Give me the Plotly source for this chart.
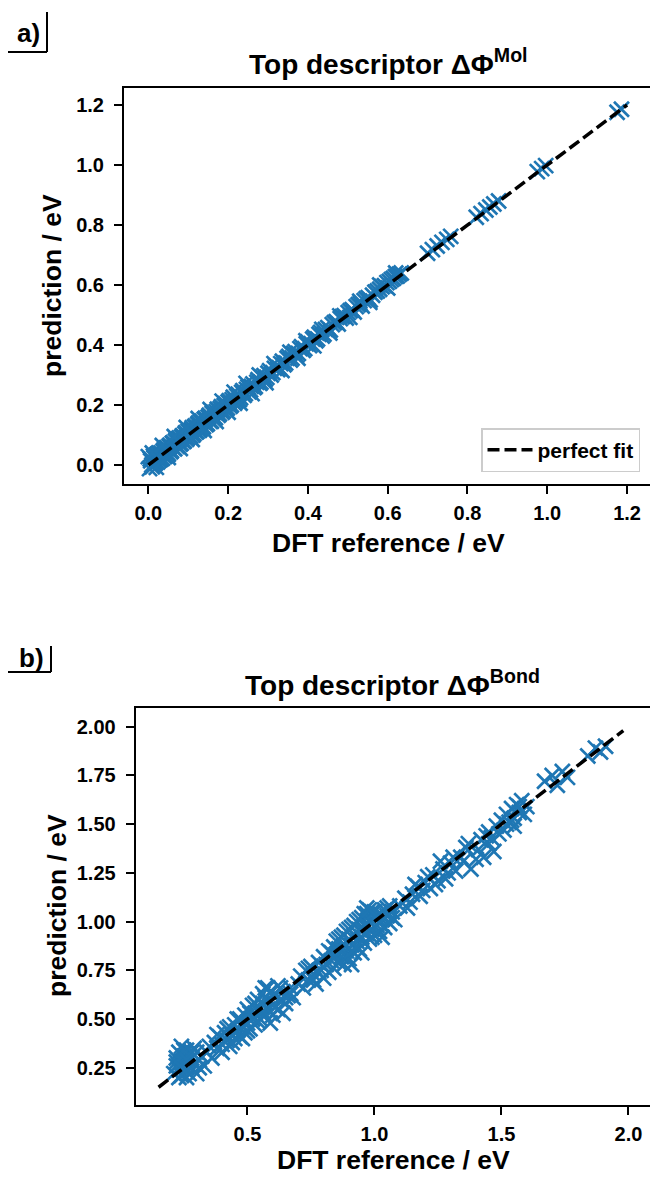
import plotly.graph_objects as go

W, H = 650, 1177

# ---------------- data ----------------
top_ref = [0.000, 0.003, 0.006, 0.010, 0.013, 0.016, 0.020, 0.023, 0.026, 0.030,
           0.033, 0.037, 0.040, 0.044, 0.048, 0.052, 0.056, 0.060, 0.064, 0.068,
           0.072, 0.076, 0.080, 0.084, 0.088, 0.092, 0.096, 0.100, 0.104, 0.108,
           0.112, 0.116, 0.120, 0.124, 0.128, 0.132, 0.136, 0.140, 0.145, 0.150,
           0.155, 0.160, 0.165, 0.170, 0.175, 0.180, 0.185, 0.190, 0.195, 0.200,
           0.205, 0.210, 0.216, 0.222, 0.228, 0.234, 0.240, 0.246, 0.252, 0.258,
           0.265, 0.272, 0.279, 0.286, 0.293, 0.300, 0.308, 0.316, 0.324, 0.332,
           0.340, 0.348, 0.356, 0.364, 0.372, 0.380, 0.388, 0.396, 0.404, 0.412,
           0.420, 0.428, 0.436, 0.444, 0.456, 0.466, 0.476, 0.486, 0.496, 0.506,
           0.516, 0.526, 0.536, 0.546, 0.556, 0.568, 0.580, 0.592, 0.604, 0.614,
           0.624, 0.634, 0.700, 0.712, 0.724, 0.736, 0.748, 0.758, 0.822, 0.834,
           0.846, 0.856, 0.866, 0.878, 0.975, 0.986, 0.996, 1.175, 1.186,
           0.005, 0.009, 0.014, 0.018, 0.022, 0.027, 0.031, 0.035, 0.039, 0.042,
           0.046, 0.050, 0.054, 0.058, 0.062, 0.066, 0.070, 0.074, 0.078, 0.082,
           0.086, 0.090, 0.094, 0.098, 0.102, 0.106, 0.110, 0.114, 0.118, 0.122,
           0.126, 0.130, 0.134, 0.138, 0.143, 0.148, 0.153, 0.158, 0.163, 0.168,
           0.173, 0.178, 0.183, 0.188, 0.193, 0.198, 0.203, 0.208, 0.213, 0.219,
           0.225, 0.231, 0.237, 0.243, 0.250, 0.256, 0.262, 0.268, 0.275, 0.282,
           0.290, 0.297, 0.304, 0.312, 0.320, 0.328, 0.336, 0.344, 0.352, 0.360,
           0.368, 0.376, 0.384, 0.392, 0.400, 0.408, 0.416, 0.424, 0.432, 0.440,
           0.450, 0.461, 0.471, 0.481, 0.491, 0.501, 0.511, 0.521, 0.531, 0.541,
           0.551, 0.562, 0.574, 0.586, 0.598, 0.609, 0.619, 0.629,
           0.010, 0.020, 0.035, 0.050, 0.065, 0.080, 0.095, 0.110, 0.125, 0.140,
           0.155, 0.170, 0.185, 0.200, 0.215, 0.230, 0.245, 0.260, 0.278, 0.295,
           0.315, 0.335, 0.355, 0.375, 0.395, 0.415, 0.435, 0.455, 0.480, 0.505,
           0.530, 0.555, 0.580, 0.600, 0.620]
top_pred = [0.028, -0.012, 0.014, -0.006, 0.030, 0.004, 0.032, 0.010, 0.040, 0.018,
            0.022, 0.046, 0.028, 0.056, 0.040, 0.062, 0.044, 0.072, 0.056, 0.080,
            0.062, 0.088, 0.070, 0.094, 0.078, 0.104, 0.086, 0.112, 0.094, 0.118,
            0.100, 0.128, 0.110, 0.136, 0.116, 0.144, 0.126, 0.152, 0.134, 0.160,
            0.146, 0.172, 0.154, 0.178, 0.166, 0.188, 0.176, 0.198, 0.186, 0.210,
            0.196, 0.218, 0.206, 0.230, 0.218, 0.242, 0.232, 0.252, 0.244, 0.262,
            0.258, 0.276, 0.272, 0.292, 0.286, 0.306, 0.300, 0.322, 0.318, 0.338,
            0.334, 0.356, 0.350, 0.372, 0.366, 0.388, 0.382, 0.404, 0.398, 0.420,
            0.414, 0.436, 0.430, 0.452, 0.450, 0.474, 0.470, 0.494, 0.490, 0.514,
            0.510, 0.534, 0.530, 0.554, 0.550, 0.576, 0.586, 0.598, 0.612, 0.622,
            0.630, 0.640, 0.706, 0.718, 0.730, 0.742, 0.752, 0.762, 0.826, 0.838,
            0.850, 0.860, 0.870, 0.880, 0.978, 0.988, 0.998, 1.176, 1.186,
            0.020, 0.000, 0.024, 0.008, 0.036, 0.016, 0.040, 0.022, 0.050, 0.030,
            0.058, 0.036, 0.066, 0.048, 0.074, 0.054, 0.084, 0.064, 0.090, 0.072,
            0.098, 0.080, 0.108, 0.090, 0.114, 0.096, 0.124, 0.104, 0.130, 0.112,
            0.140, 0.120, 0.146, 0.128, 0.156, 0.138, 0.166, 0.146, 0.176, 0.158,
            0.186, 0.170, 0.194, 0.180, 0.204, 0.190, 0.214, 0.200, 0.226, 0.212,
            0.236, 0.224, 0.248, 0.238, 0.260, 0.250, 0.270, 0.262, 0.284, 0.276,
            0.298, 0.292, 0.314, 0.308, 0.330, 0.324, 0.346, 0.340, 0.362, 0.356,
            0.378, 0.372, 0.394, 0.388, 0.410, 0.404, 0.426, 0.420, 0.442, 0.436,
            0.458, 0.468, 0.478, 0.488, 0.498, 0.508, 0.518, 0.528, 0.538, 0.548,
            0.558, 0.566, 0.580, 0.594, 0.608, 0.618, 0.628, 0.636,
            0.040, -0.008, 0.065, 0.025, 0.095, 0.055, 0.125, 0.085, 0.155, 0.115,
            0.185, 0.145, 0.213, 0.176, 0.243, 0.206, 0.272, 0.238, 0.300, 0.274,
            0.338, 0.315, 0.376, 0.356, 0.414, 0.397, 0.452, 0.440, 0.497, 0.492,
            0.546, 0.542, 0.600, 0.590, 0.640]

bot_ref = [0.21, 0.22, 0.22, 0.23, 0.23, 0.24, 0.24, 0.25, 0.25, 0.26, 0.26, 0.27,
           0.27, 0.28, 0.28, 0.29, 0.30, 0.30, 0.31, 0.32, 0.24, 0.26, 0.29, 0.33,
           0.34, 0.35, 0.36, 0.37, 0.38, 0.39, 0.40, 0.41, 0.42, 0.43, 0.43, 0.44,
           0.45, 0.45, 0.46, 0.47, 0.47, 0.48, 0.49, 0.49, 0.50, 0.50, 0.51, 0.52, 0.52,
           0.53, 0.53, 0.54, 0.55, 0.55, 0.56, 0.56, 0.57, 0.57, 0.58, 0.58, 0.59,
           0.60, 0.60, 0.61, 0.62, 0.62, 0.63, 0.64, 0.65, 0.66, 0.67, 0.68, 0.59, 0.64,
           0.70, 0.71, 0.72, 0.73, 0.74, 0.75, 0.76, 0.77, 0.78, 0.79, 0.80, 0.80,
           0.81, 0.82, 0.82,
           0.83, 0.84, 0.84, 0.85, 0.85, 0.86, 0.86, 0.87, 0.87, 0.88, 0.88, 0.89,
           0.89, 0.90, 0.90, 0.91, 0.91, 0.92, 0.92, 0.93, 0.93, 0.94, 0.94, 0.95,
           0.95, 0.96, 0.96, 0.97, 0.97, 0.98, 0.98, 0.99, 0.99, 1.00, 1.00, 0.95,
           0.91, 0.97,
           1.01, 1.02, 1.02, 1.03, 1.04, 1.04, 1.05, 1.06, 1.07, 1.08, 1.03, 1.06,
           1.10, 1.12, 1.13, 1.15, 1.17, 1.18, 1.20, 1.22, 1.23, 1.25, 1.27, 1.28,
           1.30, 1.32, 1.26,
           1.34, 1.36, 1.38, 1.40, 1.42, 1.43, 1.45, 1.47, 1.48, 1.50, 1.45, 1.41,
           1.51, 1.52, 1.53, 1.54, 1.55, 1.56, 1.57, 1.58, 1.55, 1.60,
           1.67, 1.70, 1.72, 1.74, 1.76,
           1.84, 1.87, 1.89, 1.91,
           0.22, 0.23, 0.25, 0.27, 0.28, 0.31, 0.26, 0.24,
           0.38, 0.40, 0.42, 0.44, 0.46, 0.48, 0.50, 0.51, 0.53, 0.54, 0.56, 0.57,
           0.58, 0.60, 0.61, 0.63, 0.65, 0.67,
           0.74, 0.76, 0.78, 0.80, 0.83, 0.84, 0.86, 0.87, 0.88, 0.89, 0.90, 0.91,
           0.92, 0.93, 0.94, 0.95, 0.96, 0.97, 0.98, 0.99, 1.00, 1.01, 1.02, 1.04,
           1.05, 1.07,
           1.14, 1.16, 1.19, 1.21, 1.24, 1.29, 1.31, 1.35, 1.37, 1.44, 1.46, 1.49,
           1.52, 1.54, 1.57, 1.59]
bot_pred = [0.22, 0.26, 0.30, 0.24, 0.33, 0.28, 0.21, 0.31, 0.26, 0.34, 0.23, 0.29,
            0.32, 0.25, 0.30, 0.27, 0.33, 0.22, 0.29, 0.31, 0.36, 0.20, 0.35, 0.26,
            0.33, 0.36, 0.30, 0.38, 0.35, 0.41, 0.37, 0.43, 0.39, 0.46, 0.36, 0.42,
            0.47, 0.40, 0.44, 0.50, 0.41, 0.46, 0.52, 0.43, 0.48, 0.55, 0.45, 0.50, 0.57,
            0.53, 0.47, 0.60, 0.55, 0.50, 0.63, 0.58, 0.52, 0.66, 0.60, 0.55, 0.64,
            0.57, 0.52, 0.62, 0.67, 0.55, 0.60, 0.64, 0.58, 0.62, 0.66, 0.61, 0.48, 0.53,
            0.68, 0.72, 0.66, 0.75, 0.70, 0.77, 0.73, 0.68, 0.79, 0.75, 0.82, 0.71,
            0.78, 0.85, 0.74,
            0.80, 0.87, 0.76, 0.83, 0.90, 0.79, 0.86, 0.92, 0.82, 0.88, 0.78, 0.95,
            0.85, 0.91, 0.81, 0.97, 0.88, 0.93, 0.84, 1.00, 0.90, 0.96, 0.86, 1.02,
            0.92, 0.98, 0.89, 1.04, 0.94, 1.00, 0.91, 1.05, 0.96, 1.02, 0.93, 0.84,
            0.78, 1.07,
            0.98, 1.04, 0.95, 1.01, 1.06, 0.97, 1.03, 0.99, 1.05, 1.01, 0.92, 1.08,
            1.08, 1.12, 1.07, 1.14, 1.18, 1.13, 1.20, 1.17, 1.24, 1.21, 1.27, 1.22,
            1.30, 1.26, 1.31,
            1.33, 1.38, 1.27, 1.32, 1.42, 1.33, 1.46, 1.36, 1.49, 1.52, 1.40, 1.37,
            1.47, 1.55, 1.51, 1.58, 1.53, 1.60, 1.56, 1.62, 1.49, 1.59,
            1.72, 1.75, 1.70, 1.77, 1.74,
            1.85, 1.89, 1.87, 1.90,
            0.28, 0.20, 0.34, 0.22, 0.33, 0.25, 0.29, 0.25,
            0.42, 0.33, 0.45, 0.38, 0.50, 0.40, 0.44, 0.53, 0.58, 0.49, 0.54, 0.61,
            0.66, 0.62, 0.56, 0.66, 0.61, 0.63,
            0.76, 0.70, 0.74, 0.77, 0.84, 0.81, 0.91, 0.86, 0.93, 0.82, 0.96, 0.85,
            0.98, 0.87, 1.01, 0.96, 1.04, 0.98, 1.06, 0.92, 1.05, 1.02, 0.99, 1.02,
            1.07, 1.02,
            1.10, 1.19, 1.16, 1.23, 1.19, 1.25, 1.33, 1.31, 1.40, 1.44, 1.43, 1.45,
            1.50, 1.52, 1.59, 1.55]

fit_top = [0.0, 1.2]
fit_bot = [0.15, 1.98]

top_xticks = [0.0, 0.2, 0.4, 0.6, 0.8, 1.0, 1.2]
top_yticks = [0.0, 0.2, 0.4, 0.6, 0.8, 1.0, 1.2]
bot_xticks = [0.5, 1.0, 1.5, 2.0]
bot_yticks = [0.25, 0.50, 0.75, 1.00, 1.25, 1.50, 1.75, 2.00]

# ---------------- figure ----------------
BLUE = "#1f77b4"
FONT = "Liberation Sans, Arial, sans-serif"


def px(p):
    return p / W


def py(p):
    return 1 - p / H


mk = dict(symbol="x-thin", size=15, color=BLUE, line=dict(width=2.7, color=BLUE))
dash = dict(color="black", width=3.5, dash="12px,5px")

fig = go.Figure()
fig.add_trace(go.Scatter(x=top_ref, y=top_pred, mode="markers", marker=mk,
                         xaxis="x", yaxis="y", showlegend=False))
fig.add_trace(go.Scatter(x=fit_top, y=fit_top, mode="lines", line=dash,
                         name="perfect fit", xaxis="x", yaxis="y"))
fig.add_trace(go.Scatter(x=bot_ref, y=bot_pred, mode="markers", marker=mk,
                         xaxis="x2", yaxis="y2", showlegend=False))
fig.add_trace(go.Scatter(x=fit_bot, y=fit_bot, mode="lines", line=dash,
                         xaxis="x2", yaxis="y2", showlegend=False))

tickfont = dict(family=FONT, size=20, color="black", weight="bold")
common = dict(showline=True, linewidth=2, linecolor="black", ticks="outside",
              ticklen=8, tickwidth=2, tickcolor="black", showgrid=False,
              zeroline=False, tickfont=tickfont, fixedrange=True)

fig.update_layout(
    width=W, height=H,
    margin=dict(l=0, r=0, t=0, b=0),
    paper_bgcolor="white", plot_bgcolor="white",
    xaxis=dict(domain=[px(124), 1], range=[-0.061, 1.2575], anchor="y",
               tickvals=top_xticks, tickformat=".1f", mirror=True,
               ticklabelstandoff=2, **common),
    yaxis=dict(domain=[py(484), py(88)], range=[-0.0633, 1.2567], anchor="x",
               tickvals=top_yticks, tickformat=".1f", ticklabelstandoff=6, **common),
    xaxis2=dict(domain=[px(135.7), 1], range=[0.060, 2.085], anchor="y2",
                tickvals=bot_xticks, tickformat=".1f", mirror=True,
                ticklabelstandoff=2, **common),
    yaxis2=dict(domain=[py(1105), py(708)], range=[0.059, 2.096], anchor="x2",
                tickvals=bot_yticks, tickformat=".2f", ticklabelstandoff=6, **common),
    legend=dict(x=px(640), y=py(472), xanchor="right", yanchor="bottom",
                bgcolor="white", bordercolor="#cccccc", borderwidth=1.5,
                itemwidth=45,
                font=dict(family=FONT, size=21, color="black", weight="bold")),
)


def label(text, x, y, angle=0, size=26, yanchor="middle"):
    fig.add_annotation(text=text, x=px(x), y=py(y), xref="paper", yref="paper",
                       xanchor="center", yanchor=yanchor, showarrow=False,
                       textangle=angle,
                       font=dict(family=FONT, size=size, color="black"))


label("<b>Top descriptor ΔΦ<sup>Mol</sup></b>", 388, 62, size=28)
label("<b>Top descriptor ΔΦ<sup>Bond</sup></b>", 392, 683, size=28)
label("<b>DFT reference / eV</b>", 388, 543, size=26.5)
label("<b>DFT reference / eV</b>", 393, 1177, size=26.5, yanchor="bottom")
label("<b>prediction / eV</b>", 52, 286, angle=-90, size=26.5)
label("<b>prediction / eV</b>", 57, 906, angle=-90, size=26.5)
label("<b>a)</b>", 29, 33)
label("<b>b)</b>", 31, 658)

# panel label boxes (right and bottom edges only)
for (xl, xr, yt, yb) in [(8, 47, 12, 52), (8, 51, 646, 672)]:
    fig.add_shape(type="line", xref="paper", yref="paper",
                  x0=px(xr), x1=px(xr), y0=py(yt), y1=py(yb),
                  line=dict(color="black", width=2))
    fig.add_shape(type="line", xref="paper", yref="paper",
                  x0=px(xl), x1=px(xr), y0=py(yb), y1=py(yb),
                  line=dict(color="black", width=2))

fig.write_html("out.html",
               config={"displayModeBar": False},
               post_script="document.body.style.margin='0px';"
                           "document.body.style.overflow='hidden';")
